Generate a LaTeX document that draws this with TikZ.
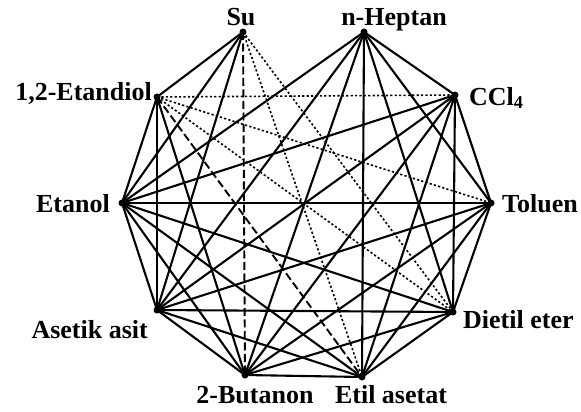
\documentclass[tikz,border=0pt]{standalone}
\usepackage{fontspec}
\setmainfont{Liberation Serif}
\begin{document}
\begin{tikzpicture}[x=1pt,y=-1pt,
  edge/.style={line width=2.1pt},
  dotline/.style={line width=1.6pt,dash pattern=on 2.2pt off 2.2pt},
  dashline/.style={line width=1.9pt,dash pattern=on 8pt off 3.5pt},
  vdot/.style={circle,fill=black,inner sep=0pt,minimum size=7pt},
  lbl/.style={font=\fontsize{26}{30}\selectfont\bfseries,inner sep=0pt}]
\useasboundingbox (0,0) rectangle (581,412);
\fill[white] (0,0) rectangle (581,412);
\coordinate (Su) at (243,32);
\coordinate (Hep) at (364,32);
\coordinate (CCl) at (455,95);
\coordinate (Tol) at (491,203);
\coordinate (Die) at (453,312);
\coordinate (Eti) at (362,377);
\coordinate (But) at (245,375);
\coordinate (Ase) at (157,310);
\coordinate (Eta) at (122,203);
\coordinate (Diol) at (157,97);
% solid edges
\foreach \a/\b in {Su/Diol,Su/Eta,Su/Ase,Diol/Eta,Diol/Ase,Diol/But,
  Hep/CCl,Hep/Tol,Hep/Die,Hep/Eti,Hep/But,Hep/Ase,Hep/Eta,
  CCl/Tol,CCl/Die,CCl/Eti,CCl/But,CCl/Ase,CCl/Eta,
  Tol/Die,Tol/Eti,Tol/But,Tol/Ase,Tol/Eta,
  Die/Eti,Die/But,Die/Ase,Die/Eta,
  Eti/But,Eti/Ase,Eti/Eta,
  But/Ase,But/Eta,Ase/Eta}
  \draw[edge,line cap=round] (\a) -- (\b);
% dotted edges
\foreach \a/\b in {Diol/CCl,Diol/Tol,Diol/Die,Su/Die,Su/Eti}
  \draw[dotline] (\a) -- (\b);
% dashed edges
\foreach \a/\b in {Su/But,Diol/Eti}
  \draw[dashline] (\a) -- (\b);
% vertex dots
\foreach \p in {Su,Hep,CCl,Tol,Die,Eti,But,Ase,Eta,Diol}
  \node[vdot] (d\p) at (\p) {};
% labels
\node[lbl,anchor=base] (lSu) at (241,26) {Su};
\node[lbl,anchor=base] (lHep) at (394,26) {n-Heptan};
\node[lbl,anchor=base west] (lCCl) at (469,105) {CCl\textsubscript{4}};
\node[lbl,anchor=base west] (lTol) at (502,212) {Toluen};
\node[lbl,anchor=base west] (lDie) at (463,328) {Dietil eter};
\node[lbl,anchor=base] (lEti) at (391,403) {Etil asetat};
\node[lbl,anchor=base] (lBut) at (255,403) {2-Butanon};
\node[lbl,anchor=base east] (lAse) at (148,338) {Asetik asit};
\node[lbl,anchor=base east] (lEta) at (110,212) {Etanol};
\node[lbl,anchor=base east] (lDiol) at (152,100) {1,2-Etandiol};
\end{tikzpicture}
\end{document}
